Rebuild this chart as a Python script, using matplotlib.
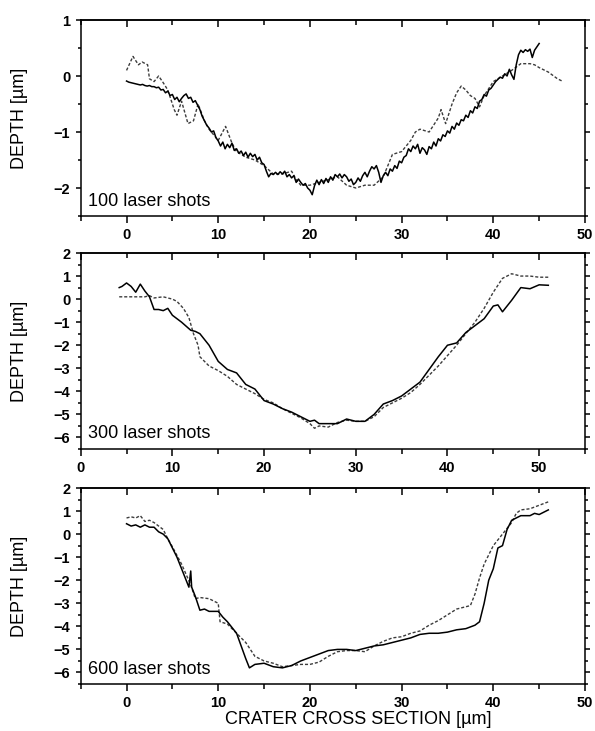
import matplotlib
matplotlib.use("Agg")
import matplotlib.pyplot as plt
import numpy as np
from matplotlib.ticker import MultipleLocator

plt.rcParams['font.family'] = ['Liberation Sans', 'DejaVu Sans']

# ---------------- data ----------------
# Panel 1: 100 laser shots (solid profile read every 0.25 µm from 0 to 45 µm)
y100_solid = [-0.09, -0.11, -0.12, -0.13, -0.14, -0.15, -0.16, -0.15, -0.17, -0.18, -0.17, -0.19,
              -0.19, -0.21, -0.2, -0.25, -0.24, -0.3, -0.27, -0.35, -0.33, -0.42, -0.38, -0.46,
              -0.4, -0.35, -0.32, -0.4, -0.38, -0.47, -0.44, -0.52, -0.6, -0.72, -0.8, -0.88,
              -0.93, -1.0, -0.98, -1.1, -1.16, -1.25, -1.18, -1.3, -1.22, -1.28, -1.2, -1.33,
              -1.3, -1.38, -1.34, -1.42, -1.36, -1.45, -1.38, -1.44, -1.4, -1.5, -1.45, -1.55,
              -1.58, -1.7, -1.8, -1.74, -1.76, -1.72, -1.76, -1.71, -1.75, -1.7, -1.8, -1.76,
              -1.82, -1.78, -1.9, -1.84, -1.9, -1.95, -1.92, -2.0, -2.04, -2.12, -1.96, -1.86,
              -1.94, -1.85, -1.92, -1.83, -1.9, -1.8, -1.86, -1.76, -1.8, -1.75, -1.82, -1.76,
              -1.8, -1.88, -1.84, -1.94, -1.9, -1.82, -1.88, -1.78, -1.72, -1.8, -1.7, -1.62,
              -1.66, -1.6, -1.72, -1.9, -1.78, -1.72, -1.78, -1.66, -1.7, -1.6, -1.65, -1.52,
              -1.55, -1.45, -1.42, -1.3, -1.35, -1.25, -1.3, -1.22, -1.38, -1.28, -1.32, -1.4,
              -1.26, -1.3, -1.18, -1.25, -1.12, -1.16, -1.05, -1.08, -0.98, -1.02, -0.9, -0.95,
              -0.84, -0.88, -0.78, -0.8, -0.7, -0.74, -0.62, -0.66, -0.55, -0.58, -0.45, -0.42,
              -0.33, -0.36, -0.25, -0.22, -0.16, -0.1, -0.06, -0.02, -0.04, 0.04, 0.0, 0.12,
              0.02, -0.06, 0.2, 0.38, 0.46, 0.42, 0.47, 0.44, 0.48, 0.33, 0.46, 0.52, 0.58]
x100_solid = np.linspace(0, 45, len(y100_solid))
x100_dash = [0, 0.7, 1.3, 1.7, 2.3, 2.5, 3, 3.5, 4, 4.5, 5.2, 5.5, 6, 6.7, 7.3, 7.8, 8.5, 9, 10, 10.8, 11.5, 12, 13,
             14, 15, 16, 17, 18, 18.5, 19, 20, 21, 22, 23, 24, 25, 26, 27, 28, 29, 30, 31, 31.5, 32, 33, 34, 34.3,
             34.8, 35.5, 36, 36.5, 37, 37.5, 38, 38.5, 39, 40, 41, 42, 43, 44, 44.5, 45, 46, 47, 47.5]
y100_dash = [0.1, 0.35, 0.2, 0.25, 0.2, -0.05, -0.1, 0.0, -0.12, -0.25, -0.6, -0.7, -0.45, -0.85, -0.8, -0.5, -0.8,
             -0.95, -1.15, -0.9, -1.2, -1.35, -1.45, -1.5, -1.6, -1.75, -1.75, -1.7, -1.85, -1.95, -1.95, -1.9,
             -1.85, -1.8, -1.95, -2.0, -1.95, -1.95, -1.8, -1.4, -1.35, -1.15, -1.0, -0.95, -1.0, -0.75, -0.6, -0.85,
             -0.5, -0.3, -0.18, -0.25, -0.35, -0.4, -0.55, -0.35, -0.1, 0.0, 0.1, 0.22, 0.22, 0.2, 0.15, 0.07, -0.05,
             -0.09]

# Panel 2: 300 laser shots
x300_solid = [4.2, 4.5, 5, 5.5, 6, 6.5, 7, 7.5, 8, 8.5, 9, 9.5, 10, 11, 12, 12.5, 13, 14, 15, 16, 17, 18, 19, 20, 21,
              22, 23, 24, 25, 25.5, 26, 27, 28, 29, 30, 31, 32, 33, 34, 35, 36, 37, 38, 39, 40, 41, 42, 43, 44, 45,
              45.5, 46, 47, 48, 49, 50, 51]
y300_solid = [0.5, 0.55, 0.7, 0.55, 0.3, 0.65, 0.35, 0.1, -0.45, -0.45, -0.5, -0.4, -0.7, -1.0, -1.35, -1.4, -1.5,
              -2.0, -2.7, -3.05, -3.2, -3.7, -3.9, -4.4, -4.55, -4.75, -4.9, -5.1, -5.3, -5.25, -5.4, -5.4, -5.4,
              -5.2, -5.3, -5.3, -5.0, -4.55, -4.4, -4.2, -3.9, -3.6, -3.05, -2.5, -2.0, -1.9, -1.45, -1.15, -0.85,
              -0.3, -0.25, -0.55, -0.05, 0.5, 0.45, 0.62, 0.6]
x300_dash = [4.2, 5, 6, 7, 7.5, 8, 9, 9.5, 10, 10.5, 11.2, 11.8, 12.3, 12.8, 13, 14, 15, 16, 17, 18, 19, 20, 21, 22, 23,
             24, 25, 25.5, 26, 27, 28, 29, 30, 31, 32, 33, 34, 35, 36, 37, 38, 39, 40, 41, 42, 43, 44, 45, 46, 47,
             48, 49, 50, 51]
y300_dash = [0.1, 0.1, 0.1, 0.1, 0.15, 0.05, 0.1, 0.05, 0.0, -0.1, -0.4, -0.8, -1.5, -2.0, -2.5, -2.9, -3.1, -3.35,
             -3.7, -3.9, -4.1, -4.35, -4.5, -4.75, -4.95, -5.15, -5.4, -5.6, -5.5, -5.55, -5.35, -5.25, -5.3, -5.3,
             -5.1, -4.7, -4.5, -4.3, -4.05, -3.7, -3.3, -2.9, -2.45, -2.0, -1.5, -1.0, -0.4, 0.3, 0.9, 1.1, 1.0, 1.0,
             0.95, 0.95]

# Panel 3: 600 laser shots
x600_solid = [0, 0.5, 1, 1.5, 2, 2.5, 3, 3.5, 4, 4.5, 5, 5.5, 6, 6.5, 6.8, 7.0, 7.1, 7.5, 8, 8.5, 9, 10, 10.5, 11, 12,
              13, 13.4, 14, 15, 16, 17, 18, 19, 20, 21, 22, 23, 24, 25, 26, 27, 28, 29, 30, 31, 32, 33, 34, 35, 36,
              37, 38, 38.5, 39, 39.5, 40, 40.5, 41, 41.5, 42, 43, 44, 44.5, 45, 46]
y600_solid = [0.45, 0.35, 0.4, 0.3, 0.4, 0.3, 0.3, 0.1, 0.0, -0.2, -0.6, -1.0, -1.5, -2.0, -2.3, -1.6, -2.3, -2.7,
              -3.3, -3.25, -3.35, -3.35, -3.6, -3.8, -4.3, -5.4, -5.8, -5.65, -5.6, -5.75, -5.8, -5.7, -5.5, -5.35,
              -5.2, -5.05, -5.0, -5.0, -5.05, -4.95, -4.85, -4.8, -4.7, -4.6, -4.5, -4.35, -4.3, -4.3, -4.25, -4.15,
              -4.1, -3.95, -3.8, -3.0, -2.0, -1.5, -0.6, -0.5, 0.2, 0.6, 0.8, 0.8, 0.9, 0.85, 1.05]
x600_dash = [0, 0.5, 1, 1.5, 2, 2.5, 3, 4, 4.5, 5, 6, 7, 7.5, 8, 9, 10, 10.2, 11, 12, 13, 14, 15, 16, 17, 18, 19, 20,
             21, 22, 23, 24, 25, 26, 27, 28, 29, 30, 31, 32, 33, 34, 35, 36, 37, 37.5, 38, 38.5, 39, 40, 41, 42,
             42.5, 43, 44, 45, 46]
y600_dash = [0.7, 0.75, 0.7, 0.8, 0.55, 0.6, 0.5, 0.2, -0.2, -0.55, -1.3, -2.2, -2.8, -2.75, -2.8, -3.0, -3.8, -3.9,
             -4.3, -4.7, -5.3, -5.5, -5.6, -5.75, -5.7, -5.65, -5.65, -5.55, -5.3, -5.1, -5.05, -5.05, -5.1, -4.85,
             -4.65, -4.5, -4.45, -4.3, -4.2, -3.95, -3.75, -3.5, -3.25, -3.15, -3.1, -2.6, -1.9, -1.3, -0.5, 0.0,
             0.5, 0.9, 1.05, 1.1, 1.25, 1.4]

panel_labels = ["100 laser shots", "300 laser shots", "600 laser shots"]
xlims = [(-5, 50), (0, 55), (-5, 50)]
ylims = [(-2.5, 1), (-6.5, 2), (-6.5, 2)]
yticks = [[-2, -1, 0, 1], [-6, -5, -4, -3, -2, -1, 0, 1, 2], [-6, -5, -4, -3, -2, -1, 0, 1, 2]]
xticks = [0, 10, 20, 30, 40, 50]

series = [
    (x100_solid, y100_solid, x100_dash, y100_dash),
    (x300_solid, y300_solid, x300_dash, y300_dash),
    (x600_solid, y600_solid, x600_dash, y600_dash),
]

# ---------------- figure ----------------
W, H = 595, 731
fig = plt.figure(figsize=(W / 100, H / 100), dpi=100)
left = 80.7 / W
width = (585 - 80.7) / W
tops = [20, 253, 488]
bottoms = [216, 449, 684]

for i in range(3):
    t, b = tops[i], bottoms[i]
    ax = fig.add_axes([left, 1 - b / H, width, (b - t) / H])
    xs, ys, xd, yd = series[i]
    ax.plot(xd, yd, color='#3c3c3c', lw=1.0, linestyle=(0, (2.2, 1.4)))
    ax.plot(xs, ys, color='black', lw=1.1)
    ax.set_xlim(*xlims[i])
    ax.set_ylim(*ylims[i])
    ax.set_xticks(xticks)
    ax.set_yticks(yticks[i])
    ax.xaxis.set_minor_locator(MultipleLocator(5))
    ax.yaxis.set_minor_locator(MultipleLocator(0.5))
    for s in ax.spines.values():
        s.set_linewidth(1.1)
    ax.tick_params(axis='x', which='major', direction='out', length=5, width=1.1, pad=3.5,
                   labelsize=10.5, top=False)
    ax.tick_params(axis='x', which='minor', direction='out', length=3.5, width=1.1, top=False)
    ax.tick_params(axis='y', which='major', direction='out', length=3.5, width=1.1, pad=4,
                   labelsize=10.5, right=True)
    ax.tick_params(axis='y', which='minor', direction='out', length=2.5, width=1.1, right=True)
    for lab in ax.get_xticklabels() + ax.get_yticklabels():
        lab.set_fontweight('bold')
    sec = ax.secondary_xaxis('top')
    sec.set_xticks(xticks)
    sec.xaxis.set_minor_locator(MultipleLocator(5))
    sec.tick_params(axis='x', which='major', direction='in', length=5, width=1.1, labeltop=False)
    sec.tick_params(axis='x', which='minor', direction='in', length=3.5, width=1.1)
    sec.spines['top'].set_linewidth(1.1)
    ax.text(7 / (585 - 80.7), 10.5 / (b - t), panel_labels[i], transform=ax.transAxes,
            fontsize=13, ha='left', va='baseline')
    fig.text(20 / W, 1 - (t + b) / 2 / H, "DEPTH [µm]", rotation=90, fontsize=13,
             ha='center', va='center')

fig.text(358 / W, 1 - 719 / H, "CRATER CROSS SECTION [µm]", fontsize=13, ha='center', va='center')

fig.savefig("out.png", dpi=100)
